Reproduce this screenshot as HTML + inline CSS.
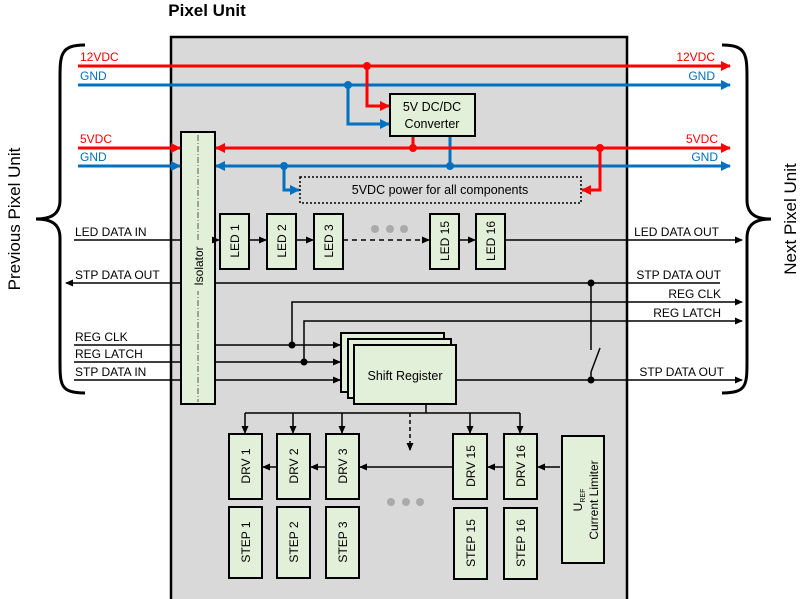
<!DOCTYPE html>
<html><head><meta charset="utf-8"><style>
body{margin:0;background:#fff}
svg{display:block}
text{font-family:"Liberation Sans",sans-serif;font-size:12px}
</style></head><body>
<svg width="800" height="599" viewBox="0 0 800 599" xmlns="http://www.w3.org/2000/svg">
<defs>
<marker id="ak" markerWidth="8" markerHeight="8" refX="7" refY="4" orient="auto" markerUnits="userSpaceOnUse"><path d="M0,0.5 L8,4 L0,7.5z" fill="#000"/></marker>
<marker id="ar" markerWidth="10" markerHeight="10" refX="9" refY="5" orient="auto" markerUnits="userSpaceOnUse"><path d="M0,0 L10,5 L0,10z" fill="#f00"/></marker>
<marker id="ab" markerWidth="10" markerHeight="10" refX="9" refY="5" orient="auto" markerUnits="userSpaceOnUse"><path d="M0,0 L10,5 L0,10z" fill="#0070c0"/></marker>
</defs>
<text x="207" y="16" font-size="17" font-weight="bold" text-anchor="middle" style="font-size:17px">Pixel Unit</text>
<rect x="171" y="37" width="456" height="570" fill="#d9d9d9" stroke="#000" stroke-width="2.5"/>
<!-- braces -->
<path d="M85,45 C60,45 60,55 60,80 L60,200 C60,215 50,219 36,219 C50,219 60,223 60,238 L60,360 C60,385 60,393 85,393" fill="none" stroke="#000" stroke-width="3"/>
<path d="M722,45 C747,45 747,55 747,80 L747,200 C747,215 757,219 771,219 C757,219 747,223 747,238 L747,360 C747,385 747,393 722,393" fill="none" stroke="#000" stroke-width="3"/>
<text transform="translate(20,219) rotate(-90)" text-anchor="middle" style="font-size:17px">Previous Pixel Unit</text>
<text transform="translate(796,219) rotate(-90)" text-anchor="middle" style="font-size:17px">Next Pixel Unit</text>
<!-- power lines -->
<g stroke-width="3" fill="none">
<line x1="78" y1="66" x2="730" y2="66" stroke="#f00" marker-end="url(#ar)"/>
<line x1="78" y1="85" x2="730" y2="85" stroke="#0070c0" marker-end="url(#ab)"/>
<polyline points="367,66 367,106 389,106" stroke="#f00" marker-end="url(#ar)"/>
<polyline points="348,85 348,124 389,124" stroke="#0070c0" marker-end="url(#ab)"/>
<line x1="413" y1="136" x2="413" y2="148" stroke="#f00"/>
<line x1="450" y1="136" x2="450" y2="166" stroke="#0070c0"/>
<line x1="78" y1="148" x2="180" y2="148" stroke="#f00" marker-end="url(#ar)"/>
<line x1="78" y1="166" x2="180" y2="166" stroke="#0070c0" marker-end="url(#ab)"/>
<line x1="730" y1="148" x2="216" y2="148" stroke="#f00" marker-end="url(#ar)"/>
<line x1="730" y1="166" x2="216" y2="166" stroke="#0070c0" marker-end="url(#ab)"/>
<line x1="615" y1="148" x2="730" y2="148" stroke="#f00" marker-end="url(#ar)"/>
<line x1="615" y1="166" x2="730" y2="166" stroke="#0070c0" marker-end="url(#ab)"/>
<polyline points="600,148 600,190 582,190" stroke="#f00" marker-end="url(#ar)"/>
<polyline points="284,166 284,190 299,190" stroke="#0070c0" marker-end="url(#ab)"/>
</g>
<g fill="#f00"><circle cx="367" cy="66" r="4"/><circle cx="413" cy="148" r="4"/><circle cx="600" cy="148" r="4"/></g>
<g fill="#0070c0"><circle cx="348" cy="85" r="4"/><circle cx="450" cy="166" r="4"/><circle cx="284" cy="166" r="4"/></g>
<g style="font-size:12.5px">
<text x="80" y="61" fill="#f00">12VDC</text><text x="80" y="80" fill="#0070c0">GND</text>
<text x="715" y="61" fill="#f00" text-anchor="end">12VDC</text><text x="715" y="80" fill="#0070c0" text-anchor="end">GND</text>
<text x="80" y="143" fill="#f00">5VDC</text><text x="80" y="161" fill="#0070c0">GND</text>
<text x="718" y="143" fill="#f00" text-anchor="end">5VDC</text><text x="718" y="161" fill="#0070c0" text-anchor="end">GND</text>
</g>
<rect x="390" y="94" width="85" height="42" fill="#e2efd9" stroke="#000" stroke-width="2"/>
<text x="432" y="111" text-anchor="middle" style="font-size:12.5px">5V DC/DC</text>
<text x="432" y="128" text-anchor="middle" style="font-size:12.5px">Converter</text>
<rect x="300" y="177" width="281" height="26" fill="none" stroke="#000" stroke-width="1.5" stroke-dasharray="2,2"/>
<text x="440" y="194" text-anchor="middle" style="font-size:12.5px">5VDC power for all components</text>
<!-- isolator -->
<rect x="181" y="132" width="34" height="272" fill="#e2efd9" stroke="#000" stroke-width="2"/>
<line x1="198" y1="135" x2="198" y2="402" stroke="#555" stroke-dasharray="6,2,1,2"/>
<rect x="192" y="241" width="12" height="50" fill="#e2efd9"/>
<text transform="translate(203,266) rotate(-90)" text-anchor="middle">Isolator</text>
<!-- signal lines -->
<g stroke="#000" stroke-width="1.5" fill="none">
<line x1="74" y1="240" x2="181" y2="240"/>
<line x1="215" y1="240" x2="219" y2="240" marker-end="url(#ak)"/>
<line x1="249" y1="240" x2="266" y2="240" marker-end="url(#ak)"/>
<line x1="296" y1="240" x2="313" y2="240" marker-end="url(#ak)"/>
<line x1="343" y1="240" x2="429" y2="240" stroke-dasharray="5,4" marker-end="url(#ak)"/>
<line x1="459" y1="240" x2="475" y2="240" marker-end="url(#ak)"/>
<line x1="505" y1="240" x2="742" y2="240" marker-end="url(#ak)"/>
<line x1="720" y1="283" x2="215" y2="283"/>
<line x1="181" y1="283" x2="66" y2="283" marker-end="url(#ak)"/>
<line x1="74" y1="345" x2="181" y2="345"/><line x1="74" y1="362" x2="181" y2="362"/><line x1="74" y1="380" x2="181" y2="380"/>
<line x1="215" y1="345" x2="340" y2="345" marker-end="url(#ak)"/>
<line x1="215" y1="362" x2="340" y2="362" marker-end="url(#ak)"/>
<line x1="215" y1="380" x2="340" y2="380" marker-end="url(#ak)"/>
<polyline points="292,345 292,302 742,302" marker-end="url(#ak)"/>
<polyline points="304,362 304,321 742,321" marker-end="url(#ak)"/>
<line x1="456" y1="380" x2="742" y2="380" marker-end="url(#ak)"/>
<line x1="591" y1="283" x2="591" y2="350"/>
<line x1="591" y1="372" x2="591" y2="380"/>
<line x1="591" y1="372" x2="600" y2="348"/>
<line x1="426" y1="404" x2="426" y2="413"/>
<line x1="245" y1="413" x2="520" y2="413"/>
<line x1="245" y1="413" x2="245" y2="433" marker-end="url(#ak)"/>
<line x1="293" y1="413" x2="293" y2="433" marker-end="url(#ak)"/>
<line x1="342" y1="413" x2="342" y2="433" marker-end="url(#ak)"/>
<line x1="470" y1="413" x2="470" y2="433" marker-end="url(#ak)"/>
<line x1="520" y1="413" x2="520" y2="433" marker-end="url(#ak)"/>
<line x1="410" y1="413" x2="410" y2="450" stroke-dasharray="4,3" marker-end="url(#ak)"/>
<line x1="560" y1="467" x2="538" y2="467" marker-end="url(#ak)"/>
<line x1="504" y1="467" x2="488" y2="467" marker-end="url(#ak)"/>
<line x1="453" y1="467" x2="360" y2="467" marker-end="url(#ak)"/>
<line x1="326" y1="467" x2="311" y2="467" marker-end="url(#ak)"/>
<line x1="277" y1="467" x2="263" y2="467" marker-end="url(#ak)"/>
</g>
<g fill="#000"><circle cx="591" cy="283" r="3.5"/><circle cx="591" cy="380" r="3.5"/><circle cx="292" cy="345" r="3.5"/><circle cx="304" cy="362" r="3.5"/></g>
<g fill="#aaa"><circle cx="375" cy="229" r="4"/><circle cx="390" cy="229" r="4"/><circle cx="404" cy="229" r="4"/>
<circle cx="391" cy="502" r="4"/><circle cx="406" cy="502" r="4"/><circle cx="420" cy="502" r="4"/></g>
<g style="font-size:12.5px">
<text x="75" y="236">LED DATA IN</text>
<text x="75" y="279">STP DATA OUT</text>
<text x="75" y="341">REG CLK</text>
<text x="75" y="358">REG LATCH</text>
<text x="75" y="376">STP DATA IN</text>
<text x="719" y="236" text-anchor="end">LED DATA OUT</text>
<text x="721" y="279" text-anchor="end">STP DATA OUT</text>
<text x="721" y="298" text-anchor="end">REG CLK</text>
<text x="721" y="317" text-anchor="end">REG LATCH</text>
<text x="724" y="376" text-anchor="end">STP DATA OUT</text>
</g>
<!-- boxes -->
<g fill="#e2efd9" stroke="#000" stroke-width="2">
<rect x="220" y="214" width="29" height="55"/><rect x="267" y="214" width="29" height="55"/><rect x="314" y="214" width="29" height="55"/>
<rect x="430" y="214" width="29" height="55"/><rect x="476" y="214" width="29" height="55"/>
<rect x="341" y="333" width="103" height="59"/><rect x="348" y="339" width="103" height="59"/><rect x="354" y="345" width="102" height="59"/>
<rect x="229" y="434" width="33" height="65"/><rect x="277" y="434" width="33" height="65"/><rect x="326" y="434" width="33" height="65"/>
<rect x="453" y="434" width="34" height="65"/><rect x="504" y="434" width="33" height="65"/>
<rect x="229" y="507" width="33" height="71"/><rect x="277" y="507" width="33" height="71"/><rect x="326" y="507" width="33" height="71"/>
<rect x="454" y="508" width="33" height="71"/><rect x="504" y="508" width="33" height="71"/>
<rect x="562" y="436" width="42" height="127"/>
</g>
<text x="405" y="380" text-anchor="middle" style="font-size:12.5px">Shift Register</text>
<g style="font-size:12.5px" text-anchor="middle">
<text transform="translate(239,241) rotate(-90)">LED 1</text>
<text transform="translate(286,241) rotate(-90)">LED 2</text>
<text transform="translate(333,241) rotate(-90)">LED 3</text>
<text transform="translate(449,241) rotate(-90)">LED 15</text>
<text transform="translate(495,241) rotate(-90)">LED 16</text>
<text transform="translate(250,466) rotate(-90)">DRV 1</text>
<text transform="translate(298,466) rotate(-90)">DRV 2</text>
<text transform="translate(347,466) rotate(-90)">DRV 3</text>
<text transform="translate(475,466) rotate(-90)">DRV 15</text>
<text transform="translate(525,466) rotate(-90)">DRV 16</text>
<text transform="translate(250,542) rotate(-90)">STEP 1</text>
<text transform="translate(298,542) rotate(-90)">STEP 2</text>
<text transform="translate(347,542) rotate(-90)">STEP 3</text>
<text transform="translate(475,543) rotate(-90)">STEP 15</text>
<text transform="translate(525,543) rotate(-90)">STEP 16</text>
<text transform="translate(582,500) rotate(-90)">U<tspan style="font-size:7px" dy="3">REF</tspan></text>
<text transform="translate(598,500) rotate(-90)">Current Limiter</text>
</g>
</svg>
</body></html>
